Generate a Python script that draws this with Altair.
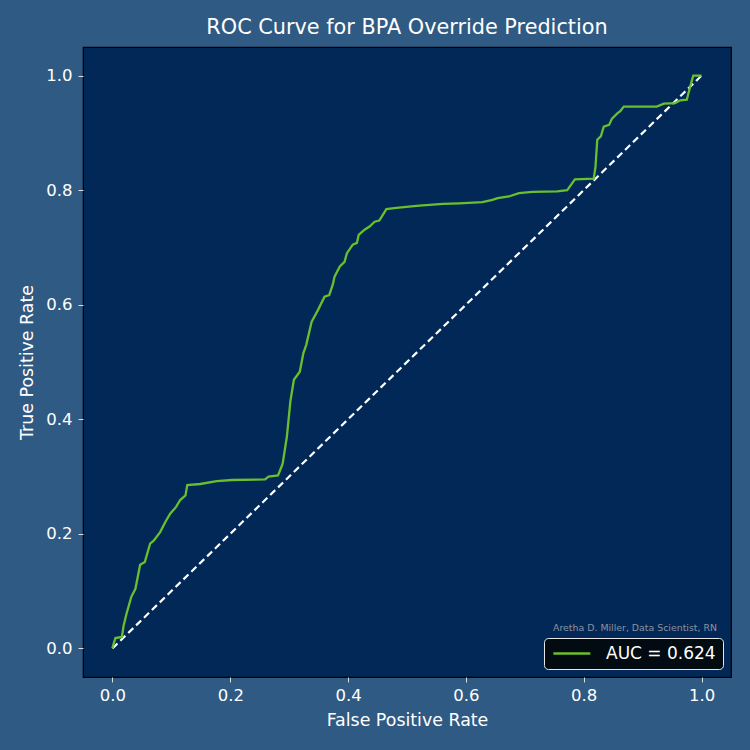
import altair as alt
import pandas as pd

# ROC curve points (false positive rate, true positive rate)
fpr = [0.000, 0.002, 0.005, 0.016, 0.019, 0.024, 0.032, 0.039, 0.047, 0.055,
       0.064, 0.070, 0.081, 0.090, 0.098, 0.108, 0.115, 0.124, 0.127, 0.149,
       0.177, 0.203, 0.259, 0.265, 0.281, 0.287, 0.289, 0.296, 0.302, 0.308,
       0.318, 0.324, 0.329, 0.338, 0.349, 0.360, 0.368, 0.374, 0.377, 0.386,
       0.394, 0.398, 0.408, 0.415, 0.418, 0.428, 0.437, 0.445, 0.453, 0.459,
       0.465, 0.482, 0.499, 0.521, 0.561, 0.589, 0.628, 0.645, 0.654, 0.673,
       0.690, 0.713, 0.755, 0.772, 0.785, 0.817, 0.820, 0.823, 0.829, 0.834,
       0.843, 0.848, 0.857, 0.862, 0.868, 0.924, 0.936, 0.955, 0.964, 0.975,
       0.978, 0.984, 0.986, 0.998, 1.000]
tpr = [0.000, 0.008, 0.018, 0.020, 0.040, 0.061, 0.090, 0.104, 0.146, 0.151,
       0.183, 0.188, 0.203, 0.221, 0.235, 0.247, 0.259, 0.267, 0.285, 0.287,
       0.292, 0.294, 0.295, 0.300, 0.302, 0.317, 0.323, 0.369, 0.431, 0.469,
       0.483, 0.515, 0.530, 0.570, 0.591, 0.614, 0.617, 0.635, 0.649, 0.667,
       0.675, 0.690, 0.705, 0.708, 0.722, 0.731, 0.737, 0.745, 0.747, 0.757,
       0.767, 0.769, 0.771, 0.773, 0.776, 0.777, 0.779, 0.783, 0.786, 0.789,
       0.795, 0.797, 0.798, 0.800, 0.819, 0.820, 0.841, 0.888, 0.894, 0.911,
       0.914, 0.925, 0.934, 0.938, 0.946, 0.946, 0.951, 0.952, 0.957, 0.958,
       0.970, 0.993, 1.000, 1.000, 1.000]
auc_label = "AUC = 0.624"

# chance line
chance_x = [0.0, 1.0]
chance_y = [0.0, 1.0]

tick_values = [0.0, 0.2, 0.4, 0.6, 0.8, 1.0]

FONT = "DejaVu Sans"
BG = "#2f5a83"
PLOT_BG = "#012856"
GREEN = "#6abf2e"

roc = pd.DataFrame({"fpr": fpr, "tpr": tpr, "order": range(len(fpr)),
                    "series": auc_label})
chance = pd.DataFrame({"fpr": chance_x, "tpr": chance_y})

x_scale = alt.Scale(domain=[-0.05, 1.05], nice=False, zero=False)
y_scale = alt.Scale(domain=[-0.05, 1.05], nice=False, zero=False)

x_axis = alt.Axis(title="False Positive Rate", values=tick_values, format=".1f",
                  grid=False, domain=False)
y_axis = alt.Axis(title="True Positive Rate", values=tick_values, format=".1f",
                  grid=False, domain=False)

roc_line = alt.Chart(roc).mark_line(strokeWidth=2.3, clip=True).encode(
    x=alt.X("fpr:Q", scale=x_scale, axis=x_axis),
    y=alt.Y("tpr:Q", scale=y_scale, axis=y_axis),
    order="order:Q",
    color=alt.Color("series:N",
                    scale=alt.Scale(domain=[auc_label], range=[GREEN]),
                    legend=alt.Legend(title=None, orient="bottom-right",
                                      offset=8, fillColor="#020a12",
                                      strokeColor="#e6e6e6", cornerRadius=4,
                                      padding=7, labelFontSize=17,
                                      labelColor="white", labelFont=FONT,
                                      symbolType="M-1,0H5", symbolSize=152,
                                      symbolStrokeWidth=2.3,
                                      labelOffset=38)),
)

chance_line = alt.Chart(chance).mark_line(
    color="white", strokeDash=[7, 4], strokeWidth=2.2
).encode(
    x=alt.X("fpr:Q", scale=x_scale),
    y=alt.Y("tpr:Q", scale=y_scale),
)

credit = alt.Chart(pd.DataFrame({"t": ["Aretha D. Miller, Data Scientist, RN"]})).mark_text(
    font=FONT, fontSize=9.4, color="#8a94a0", align="center", baseline="middle"
).encode(x=alt.value(552), y=alt.value(581), text="t:N")

chart = alt.layer(chance_line, roc_line, credit).properties(
    width=648,
    height=630,
    background=BG,
    padding={"left": 83, "top": 47, "right": 19, "bottom": 73},
    autosize=alt.AutoSizeParams(type="none"),
    title=alt.TitleParams("ROC Curve for BPA Override Prediction", font=FONT,
                          fontSize=20.8, fontWeight="normal", color="white",
                          offset=8),
).configure_view(
    fill=PLOT_BG, stroke="black", strokeWidth=1.2
).configure_axis(
    labelFont=FONT, titleFont=FONT, labelFontSize=16.5, titleFontSize=17.4,
    labelColor="white", titleColor="white", tickColor="#dddddd",
    tickSize=5, tickWidth=1, titleFontWeight="normal",
).configure_axisX(labelPadding=5, titlePadding=8).configure_axisY(
    labelPadding=6, titlePadding=9)

chart.save("out.html", embed_options={"renderer": "svg", "actions": False})
